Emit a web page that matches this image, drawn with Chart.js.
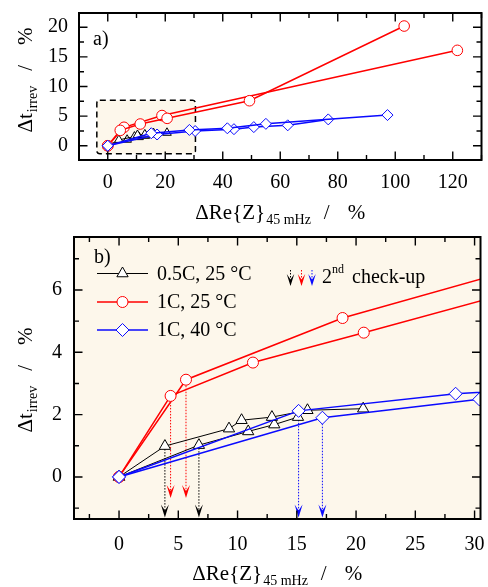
<!DOCTYPE html>
<html><head><meta charset="utf-8">
<script src="https://cdn.jsdelivr.net/npm/chart.js@4.4.0/dist/chart.umd.min.js"></script>
<style>
html,body{margin:0;padding:0;background:#fff;}
#wrap{position:relative;width:488px;height:587px;overflow:hidden;}
#c1{position:absolute;left:0;top:0;}
#c2{position:absolute;left:0;top:228px;}
</style></head><body>
<div id="wrap"><canvas id="c1" width="488" height="228"></canvas><canvas id="c2" width="488" height="359"></canvas></div>
<script>
// ---------- data ----------
const zoomX = [-3.8, 30.5];          // range of panel b (also the dashed box in panel a)
const zoomY = [-1.35, 7.7];
const topRangeX = [-10, 130];
const topRangeY = [-2.4, 22.4];
const topXTicks = [0, 20, 40, 60, 80, 100, 120];
const topYTicks = [0, 5, 10, 15, 20];
const botXTicks = [0, 5, 10, 15, 20, 25, 30];
const botYTicks = [0, 2, 4, 6];

const seriesNames = ['0.5C, 25 °C', '1C, 25 °C', '1C, 40 °C'];

// 0.5C, 25 °C (two cells)
const blk1X = [0, 3.87, 9.28, 10.34, 12.9, 15.9, 20.6];
const blk1Y = [0, 0.99, 1.55, 1.82, 1.92, 2.14, 2.19];
const blk2X = [0, 6.74, 10.9, 13.1, 15.1];
const blk2Y = [0, 1.02, 1.46, 1.68, 1.92];
// 1C, 25 °C
const red1X = [0, 4.35, 11.3, 20.65, 49.3, 103.1];
const red1Y = [0, 2.6, 3.67, 4.63, 7.6, 20.2];
const red2X = [0, 5.65, 18.86, 121.6];
const red2Y = [0, 3.12, 5.1, 16.1];
// 1C, 40 °C
const blu1X = [0, 15.15, 28.4, 41.6, 55.0, 97.3];
const blu1Y = [0, 2.12, 2.67, 2.95, 3.7, 5.18];
const blu2X = [0, 17.16, 30.4, 43.9, 50.8, 62.6, 76.7];
const blu2Y = [0, 1.9, 2.49, 2.8, 3.15, 3.45, 4.45];

// 2nd check-up arrow tips (value on y axis)
const checkTipBlack = -1.3;
const checkTipRed = -0.68;
const checkTipBlue = -1.3;

// ---------- styles ----------
const F = '"Liberation Serif","Times New Roman",serif';
const BEIGE = '#fdf7eb';
const RED = '#ff0000', BLUE = '#0a0aff', BLACK = '#000000';

function pts(xs, ys) { return xs.map((x, i) => ({x: x, y: ys[i]})); }
function ds(xs, ys, color, style, r, bw) {
  return {data: pts(xs, ys), showLine: true, borderColor: color, borderWidth: bw,
    pointStyle: style, pointRadius: r, pointHoverRadius: r, pointBackgroundColor: '#fff',
    pointBorderColor: color, pointBorderWidth: 1, tension: 0, fill: false};
}

function minorsOf(maj, min, max) {
  const st = (maj[1] - maj[0]) / 2, out = [];
  for (let v = Math.ceil(min / st) * st; v <= max + 1e-9; v += st) {
    if (!maj.some(m => Math.abs(m - v) < 1e-9)) out.push(v);
  }
  return out;
}
function drawFrameTicks(chart, xMaj, yMaj) {
  const {ctx, chartArea: a, scales: {x, y}} = chart;
  ctx.save();
  ctx.strokeStyle = '#000'; ctx.lineWidth = 1.4;
  ctx.beginPath();
  const tick = (v, len, axis) => {
    if (axis === 'x') {
      const p = x.getPixelForValue(v);
      ctx.moveTo(p, a.bottom); ctx.lineTo(p, a.bottom - len);
      ctx.moveTo(p, a.top); ctx.lineTo(p, a.top + len);
    } else {
      const p = y.getPixelForValue(v);
      ctx.moveTo(a.left, p); ctx.lineTo(a.left + len, p);
      ctx.moveTo(a.right, p); ctx.lineTo(a.right - len, p);
    }
  };
  xMaj.forEach(v => tick(v, 8.5, 'x'));
  minorsOf(xMaj, x.min, x.max).forEach(v => tick(v, 5, 'x'));
  yMaj.forEach(v => tick(v, 8.5, 'y'));
  minorsOf(yMaj, y.min, y.max).forEach(v => tick(v, 5, 'y'));
  ctx.stroke();
  ctx.lineWidth = 2;
  ctx.strokeRect(a.left, a.top, a.right - a.left, a.bottom - a.top);
  ctx.restore();
}
function richWidth(ctx, parts) {
  let w = 0;
  parts.forEach(p => { ctx.font = p.font; w += (p.gap || 0) + ctx.measureText(p.t).width; });
  return w;
}
function drawRich(ctx, parts, cx, baseY) {
  const w = richWidth(ctx, parts);
  let x = cx - w / 2;
  ctx.textBaseline = 'alphabetic'; ctx.textAlign = 'left'; ctx.fillStyle = '#000';
  parts.forEach(p => {
    ctx.font = p.font; x += (p.gap || 0);
    ctx.fillText(p.t, x, baseY + (p.dy || 0));
    x += ctx.measureText(p.t).width;
  });
}
const xTitle = [
  {t: 'ΔRe{Z}', font: `21px ${F}`},
  {t: '45 mHz', font: `14px ${F}`, dy: 5, gap: 1},
  {t: '/', font: `21px ${F}`, gap: 13},
  {t: '%', font: `21px ${F}`, gap: 18}
];
const yTitle = [
  {t: 'Δt', font: `21px ${F}`},
  {t: 'irrev', font: `14px ${F}`, dy: 5, gap: 1},
  {t: '/', font: `21px ${F}`, gap: 15},
  {t: '%', font: `21px ${F}`, gap: 20}
];
function drawTitles(chart, xBase, yCenter) {
  const {ctx, chartArea: a} = chart;
  ctx.save();
  drawRich(ctx, xTitle, (a.left + a.right) / 2, xBase);
  ctx.translate(32, yCenter); ctx.rotate(-Math.PI / 2);
  drawRich(ctx, yTitle, 0, 0);
  ctx.restore();
}
function shape(ctx, style, x, y, r) {
  ctx.beginPath();
  if (style === 'circle') { ctx.arc(x, y, r, 0, Math.PI * 2); }
  else if (style === 'triangle') {
    ctx.moveTo(x, y - r); ctx.lineTo(x + 0.866 * r, y + 0.5 * r); ctx.lineTo(x - 0.866 * r, y + 0.5 * r); ctx.closePath();
  } else {
    ctx.moveTo(x - r, y); ctx.lineTo(x, y - r); ctx.lineTo(x + r, y); ctx.lineTo(x, y + r); ctx.closePath();
  }
}
function arrowHead(ctx, x, tipY, w, h, notch) {
  ctx.beginPath();
  ctx.moveTo(x, tipY); ctx.lineTo(x - w / 2, tipY - h); ctx.lineTo(x, tipY - notch); ctx.lineTo(x + w / 2, tipY - h);
  ctx.closePath(); ctx.fill();
}
function dottedArrow(ctx, x, y0, y1, color) {
  ctx.save();
  ctx.strokeStyle = color; ctx.fillStyle = color; ctx.lineWidth = 1;
  ctx.setLineDash([1.5, 1.5]);
  ctx.beginPath(); ctx.moveTo(x, y0); ctx.lineTo(x, y1 - 5); ctx.stroke();
  ctx.setLineDash([]);
  arrowHead(ctx, x, y1, 8, 13, 7);
  ctx.restore();
}

function scaleOpts(range, ticksArr, padding, fitKey, fitVal) {
  return {
    type: 'linear', min: range[0], max: range[1],
    grid: {display: false, drawTicks: false}, border: {display: false},
    ticks: {font: {family: F, size: 20}, color: '#000', padding: padding, maxRotation: 0, autoSkip: false},
    afterBuildTicks: s => { s.ticks = ticksArr.map(v => ({value: v})); },
    afterFit: s => {
      s[fitKey] = fitVal;
      s.paddingTop = 0; s.paddingBottom = 0; s.paddingLeft = 0; s.paddingRight = 0;
    }
  };
}

// ---------- panel a ----------
const topPlugin = {
  id: 'topDeco',
  beforeDatasetsDraw(chart) {
    const {ctx, scales: {x, y}} = chart;
    const x0 = x.getPixelForValue(zoomX[0]), x1 = x.getPixelForValue(zoomX[1]);
    const y0 = y.getPixelForValue(zoomY[1]), y1 = y.getPixelForValue(zoomY[0]);
    ctx.save();
    ctx.beginPath(); ctx.roundRect(x0, y0, x1 - x0, y1 - y0, 3);
    ctx.fillStyle = BEIGE; ctx.fill();
    ctx.setLineDash([6, 4]); ctx.lineWidth = 1.5; ctx.strokeStyle = '#000'; ctx.stroke();
    ctx.restore();
  },
  afterDraw(chart) {
    const {ctx} = chart;
    drawFrameTicks(chart, topXTicks, topYTicks);
    ctx.save(); ctx.font = `20px ${F}`; ctx.fillStyle = '#000'; ctx.textBaseline = 'middle';
    ctx.fillText('a)', 93, 40); ctx.restore();
    drawTitles(chart, 219, 80);
  }
};
new Chart(document.getElementById('c1'), {
  type: 'scatter',
  data: {datasets: [
    ds(blu1X, blu1Y, BLUE, 'rectRot', 5.5, 1.5),
    ds(blu2X, blu2Y, BLUE, 'rectRot', 5.5, 1.5),
    ds(red1X, red1Y, RED, 'circle', 5.3, 1.5),
    ds(red2X, red2Y, RED, 'circle', 5.3, 1.5),
    ds(blk1X, blk1Y, BLACK, 'triangle', 5, 1),
    ds(blk2X, blk2Y, BLACK, 'triangle', 5, 1)
  ]},
  options: {
    responsive: false, animation: false, events: [],
    layout: {padding: {top: 13, right: 4, left: 0, bottom: 0}},
    plugins: {legend: {display: false}, tooltip: {enabled: false}},
    scales: {
      x: scaleOpts(topRangeX, topXTicks, 11, 'height', 68),
      y: scaleOpts(topRangeY, topYTicks, 11, 'width', 79)
    }
  },
  plugins: [topPlugin]
});

// ---------- panel b ----------
const botPlugin = {
  id: 'botDeco',
  beforeDraw(chart) {
    const {ctx, chartArea: a} = chart;
    ctx.save(); ctx.fillStyle = BEIGE; ctx.fillRect(a.left, a.top, a.right - a.left, a.bottom - a.top); ctx.restore();
  },
  beforeDatasetsDraw(chart) {
    const {ctx, scales: {x, y}} = chart;
    const arrows = [
      [blk1X, blk1Y, BLACK, checkTipBlack], [blk2X, blk2Y, BLACK, checkTipBlack],
      [red1X, red1Y, RED, checkTipRed], [red2X, red2Y, RED, checkTipRed],
      [blu1X, blu1Y, BLUE, checkTipBlue], [blu2X, blu2Y, BLUE, checkTipBlue]
    ];
    arrows.forEach(([xs, ys, c, tip]) => {
      dottedArrow(ctx, x.getPixelForValue(xs[1]), y.getPixelForValue(ys[1]), y.getPixelForValue(tip), c);
    });
  },
  afterDraw(chart) {
    const {ctx} = chart;
    drawFrameTicks(chart, botXTicks, botYTicks);
    ctx.save();
    ctx.font = `20px ${F}`; ctx.fillStyle = '#000'; ctx.textBaseline = 'middle'; ctx.textAlign = 'left';
    ctx.fillText('b)', 94, 30);
    // legend
    const rows = [[BLACK, 'triangle', 6.5, 1, 45.5], [RED, 'circle', 5.5, 1.5, 74], [BLUE, 'rectRot', 6.5, 1.5, 102]];
    rows.forEach(([c, st, r, bw, yy], i) => {
      ctx.strokeStyle = c; ctx.lineWidth = bw;
      ctx.beginPath(); ctx.moveTo(97, yy); ctx.lineTo(148, yy); ctx.stroke();
      shape(ctx, st, 122.5, yy, r); ctx.fillStyle = '#fff'; ctx.fill(); ctx.lineWidth = 1; ctx.stroke();
      ctx.fillStyle = '#000'; ctx.font = `20px ${F}`; ctx.textBaseline = 'middle';
      ctx.fillText(seriesNames[i], 157, yy + 1);
    });
    // 2nd check-up legend
    [[BLACK, 290.5], [RED, 301.5], [BLUE, 312]].forEach(([c, xx]) => {
      ctx.save(); ctx.strokeStyle = c; ctx.fillStyle = c; ctx.lineWidth = 1; ctx.setLineDash([1.5, 1.5]);
      ctx.beginPath(); ctx.moveTo(xx, 42); ctx.lineTo(xx, 50); ctx.stroke(); ctx.setLineDash([]);
      arrowHead(ctx, xx, 58, 7.5, 12, 6.5); ctx.restore();
    });
    ctx.fillStyle = '#000'; ctx.textBaseline = 'alphabetic';
    ctx.font = `20px ${F}`; ctx.fillText('2', 322, 55);
    ctx.font = `12px ${F}`; ctx.fillText('nd', 332, 45);
    ctx.font = `20px ${F}`; ctx.fillText('check-up', 352, 55);
    ctx.restore();
    drawTitles(chart, 352, 152);
  }
};
new Chart(document.getElementById('c2'), {
  type: 'scatter',
  data: {datasets: [
    ds(blu1X, blu1Y, BLUE, 'rectRot', 6.5, 1.5),
    ds(blu2X, blu2Y, BLUE, 'rectRot', 6.5, 1.5),
    ds(red1X, red1Y, RED, 'circle', 5.5, 1.5),
    ds(red2X, red2Y, RED, 'circle', 5.5, 1.5),
    ds(blk1X, blk1Y, BLACK, 'triangle', 6.5, 1),
    ds(blk2X, blk2Y, BLACK, 'triangle', 6.5, 1)
  ]},
  options: {
    responsive: false, animation: false, events: [],
    layout: {padding: {top: 9, right: 5, left: 0, bottom: 0}},
    plugins: {legend: {display: false}, tooltip: {enabled: false}},
    scales: {
      x: scaleOpts(zoomX, botXTicks, 14, 'height', 68),
      y: scaleOpts(zoomY, botYTicks, 12, 'width', 74)
    }
  },
  plugins: [botPlugin]
});
</script>
</body></html>
